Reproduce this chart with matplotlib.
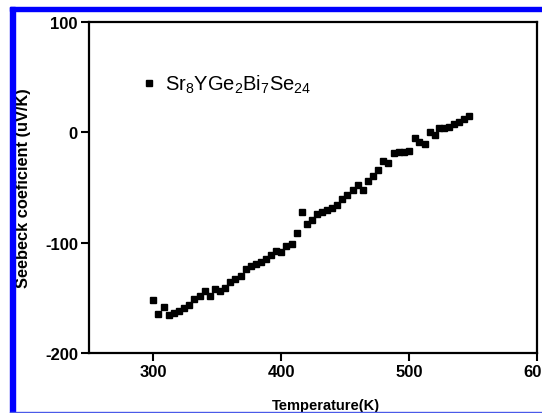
import matplotlib
matplotlib.use("Agg")
import matplotlib.pyplot as plt
from matplotlib.patches import Rectangle

plt.rcParams['font.family'] = ['Liberation Sans', 'DejaVu Sans']
plt.rcParams['mathtext.default'] = 'regular'
plt.rcParams['axes.unicode_minus'] = False

# temperature (K) and Seebeck coefficient (uV/K)
temperature = [300.2, 304.1, 308.6, 312.5, 316.4, 320.3, 324.2, 328.1, 332.0, 336.5,
               340.4, 344.5, 348.4, 352.3, 356.3, 360.2, 364.1, 368.5, 372.4, 376.3,
               380.2, 384.1, 388.5, 392.4, 396.3, 400.2, 404.1, 408.4, 412.3, 416.2,
               420.1, 424.0, 428.4, 432.3, 436.2, 440.1, 444.0, 447.9, 451.8, 456.3,
               460.2, 464.3, 468.2, 472.1, 476.0, 479.9, 483.8, 488.3, 492.2, 496.1,
               500.0, 504.5, 507.8, 512.3, 516.2, 520.3, 523.4, 527.3, 531.3, 535.2,
               539.1, 543.0, 546.9]
seebeck = [-152.2, -164.9, -158.2, -165.2, -163.6, -161.8, -159.1, -156.1, -150.7, -148.6,
           -144.1, -148.6, -141.6, -143.4, -141.0, -135.6, -133.2, -130.1, -124.2, -121.1,
           -119.0, -117.5, -115.1, -111.5, -107.5, -108.4, -103.3, -101.5, -91.2, -72.2,
           -82.8, -79.2, -74.4, -72.2, -70.1, -68.6, -65.6, -60.8, -56.6, -51.8,
           -47.5, -52.0, -44.2, -40.0, -33.7, -26.1, -27.9, -18.6, -17.4, -17.4,
           -17.0, -5.2, -8.3, -10.4, 0.7, -2.0, 3.8, 4.3, 5.2, 7.7,
           9.8, 12.2, 14.7]
series_label = r'Sr$_8$YGe$_2$Bi$_7$Se$_{24}$'
xticks = [300, 400, 500, 600]
yticks = [-200, -100, 0, 100]

fig = plt.figure(figsize=(5.42, 4.14), dpi=100)
ax = fig.add_axes([0.1642, 0.1449, 0.8266, 0.7995])

ax.plot(temperature, seebeck, 's', color='black', markersize=4.4, label=series_label)

ax.set_xlim(250, 600)
ax.set_ylim(-200, 100)
ax.set_xticks(xticks)
ax.set_yticks(yticks)
ax.tick_params(direction='out', length=6, width=1.5, labelsize=12, pad=2)
for lab in ax.get_xticklabels() + ax.get_yticklabels():
    lab.set_fontweight('bold')
for sp in ax.spines.values():
    sp.set_linewidth(1.6)

ax.set_xlabel('Temperature(K)', fontsize=10.5, fontweight='bold')
ax.set_ylabel('Seebeck coeficient (uV/K)', fontsize=11.8, fontweight='bold')
ax.xaxis.set_label_coords(0.529, -0.136)
ax.yaxis.set_label_coords(-0.13, 0.5)

ax.legend(loc='center left', bbox_to_anchor=(0.07, 0.813), frameon=False,
          fontsize=14.5, handlelength=1.0, handletextpad=0.3, markerscale=1.0)

# blue frame around the cropped figure
fig.patches.append(Rectangle((10 / 542, 0), 5 / 542, 406 / 414, transform=fig.transFigure,
                             color='#0000ff', zorder=5))
fig.patches.append(Rectangle((10 / 542, 402 / 414), 532 / 542, 4 / 414, transform=fig.transFigure,
                             color='#0000ff', zorder=5))
fig.patches.append(Rectangle((10 / 542, 0), 532 / 542, 1.5 / 414, transform=fig.transFigure,
                             color='#4a5ae8', zorder=5))

fig.savefig('out.png', dpi=100)
